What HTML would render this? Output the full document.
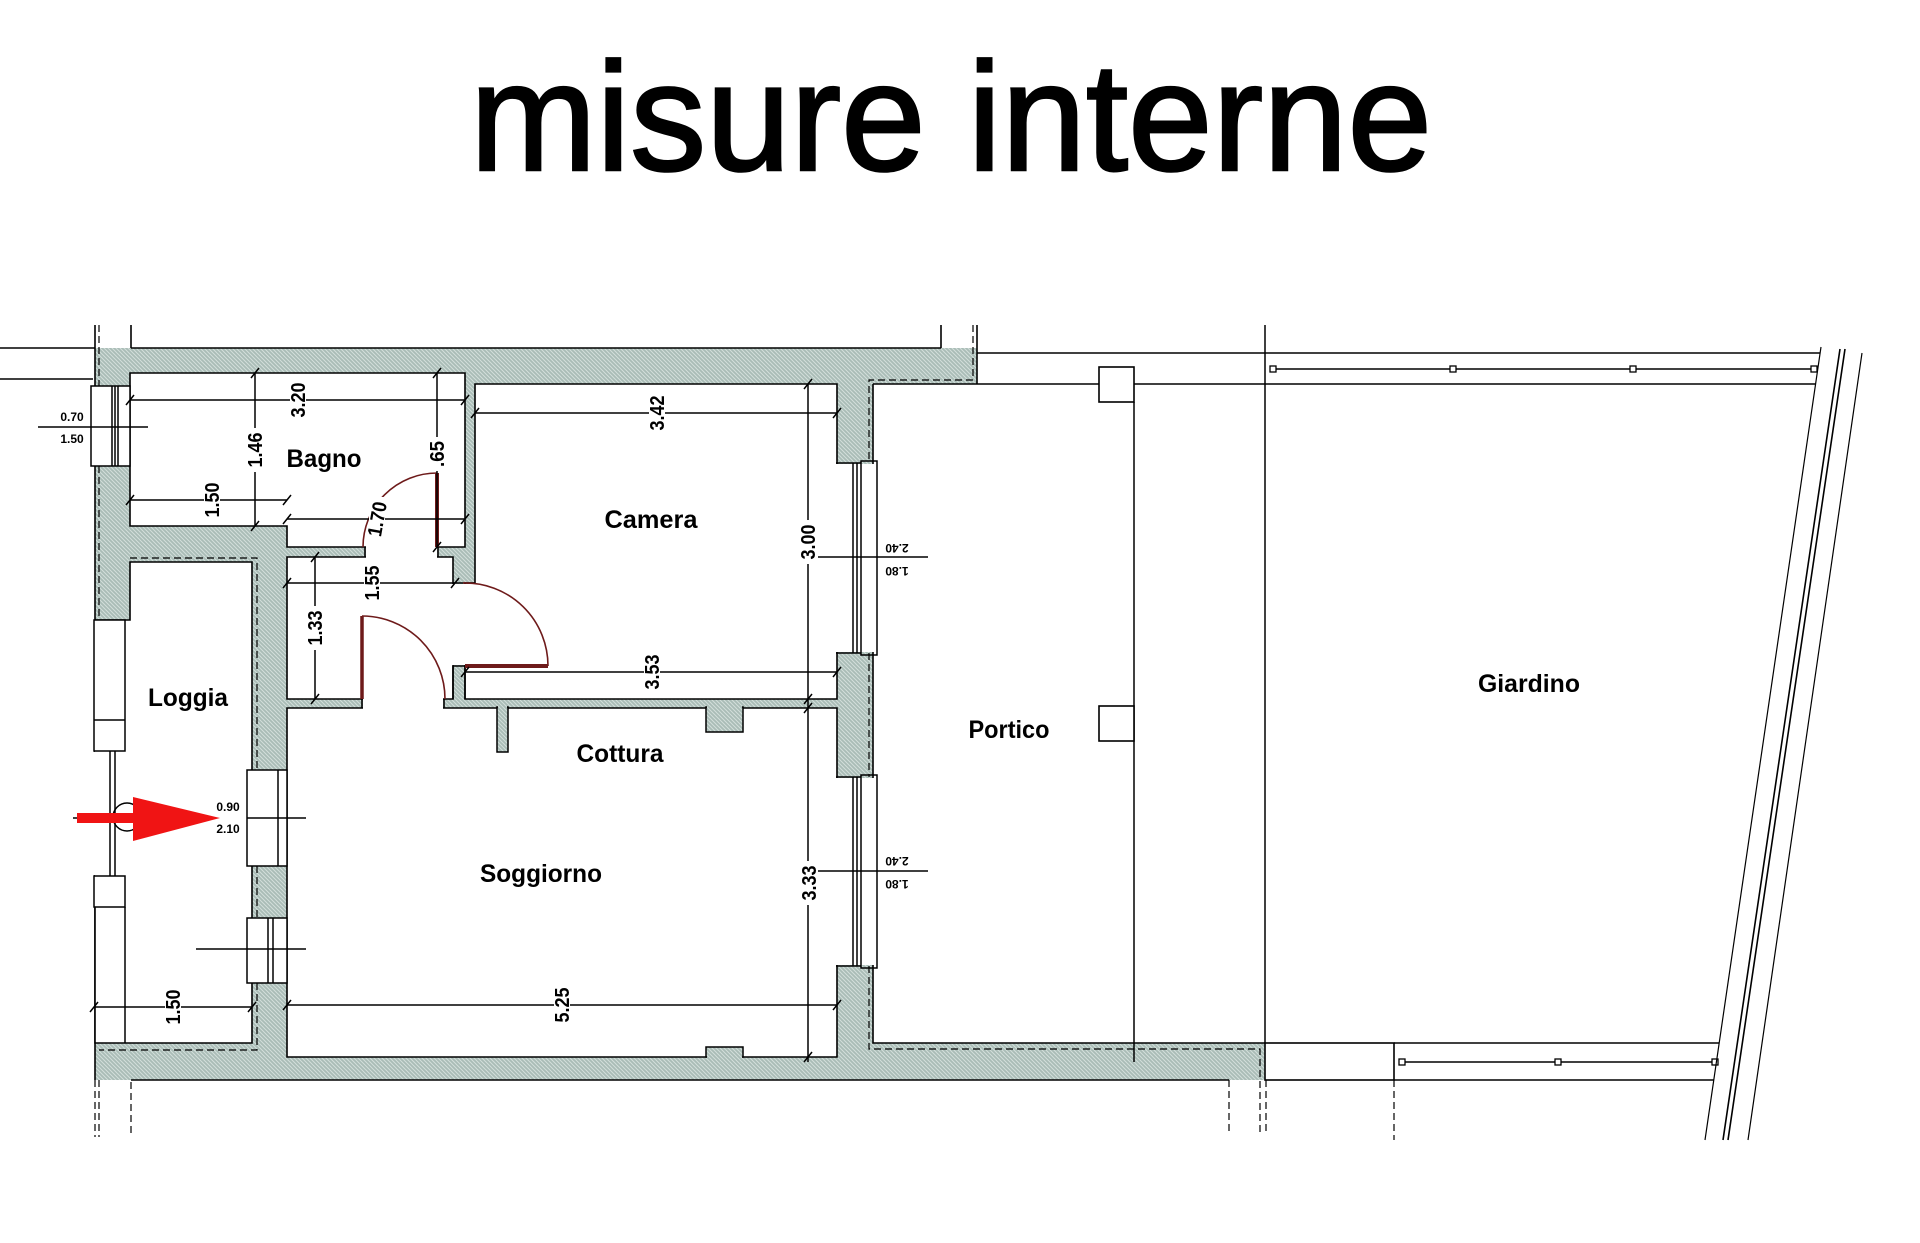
<!DOCTYPE html>
<html><head><meta charset="utf-8"><style>
html,body{margin:0;padding:0;background:#fff;}
svg{display:block;}
text{font-family:"Liberation Sans",Arial,sans-serif;}
.b{font-weight:bold;}
</style></head><body>
<svg width="1920" height="1243" viewBox="0 0 1920 1243" xmlns="http://www.w3.org/2000/svg">
<defs>
<pattern id="h" patternUnits="userSpaceOnUse" width="4" height="4">
<rect width="4" height="4" fill="#a9bcb6"/>
<path d="M-1,-1 L5,5 M-1,3 L1,5 M3,-1 L5,1" stroke="#d3dfdb" stroke-width="1"/>
</pattern>
</defs>
<rect width="1920" height="1243" fill="#fff"/>

<!-- Title -->
<text x="951" y="170" font-size="154" text-anchor="middle" textLength="962" lengthAdjust="spacingAndGlyphs" fill="#000" stroke="#000" stroke-width="2.5">misure interne</text>

<!-- building footprint (hatched walls) -->
<path d="M95,348 H977 V384 H873 V1043 H1265 V1080 H95 Z" fill="url(#h)"/>

<g stroke="#000" stroke-width="1.6" fill="none">
<path d="M131,348 H941"/>
<path d="M95,325 V1080"/>
<path d="M131,325 V348"/>
<path d="M941,325 V348"/>
<path d="M977,325 V384"/>
<path d="M873,384 V1043 H1265"/>
<path d="M131,1080 H1229"/>
<path d="M0,348 H95 M0,379 H93"/>
</g>
<g stroke="#000" stroke-width="1.2" fill="none" stroke-dasharray="7 4">
<path d="M99,325 V386 M99,466 V620"/>
<path d="M973,325 V380 H869 V463 M869,653 V777 M869,966 V1049 H1260 V1133"/>
<path d="M130,558 H257 V770 M257,866 V918 M257,983 V1050 H99"/>
<path d="M95,1080 V1137 M99,1080 V1137 M131,1082 V1137"/>
<path d="M1229,1080 V1133 M1266,1080 V1133 M1394,1080 V1140"/>
</g>

<!-- rooms -->
<g fill="#fff" stroke="#000" stroke-width="1.6">
<path d="M130,373 H465 V547 H287 V526 H130 Z"/>
<path d="M287,557 H453 V699 H287 Z"/>
<path d="M475,384 H837 V699 H465 V583 H475 Z"/>
<path d="M287,708 H837 V1057 H287 Z"/>
</g>
<path d="M130,562 H252 V1043 H95 V620 H130 Z" fill="#fff"/>
<path d="M95,620 H130 V562 H252 V1043 H95 V876 M95,751 V620" fill="none" stroke="#000" stroke-width="1.6"/>
<rect x="92" y="752" width="16" height="123" fill="#fff"/>

<g fill="url(#h)" stroke="#000" stroke-width="1.5">
<rect x="497" y="707" width="11" height="45"/>
<rect x="706" y="707" width="37" height="25"/>
<rect x="706" y="1047" width="37" height="10"/>
</g>
<rect x="498" y="705" width="9" height="4" fill="url(#h)"/>
<rect x="707" y="705" width="35" height="4" fill="url(#h)"/>
<rect x="707" y="1055" width="35" height="4" fill="url(#h)"/>

<g fill="#fff">
<rect x="452" y="584" width="24" height="81"/>
<rect x="366" y="545" width="71" height="14"/>
<rect x="363" y="697" width="80" height="13"/>
</g>
<g stroke="#000" stroke-width="1.6" fill="none">
<path d="M453,583 H475 M453,666 H465 M453,666 V699 M465,666 V699"/>
<path d="M365,547 V557 M438,547 V557"/>
<path d="M362,699 V708 M444,699 V708"/>
</g>

<g stroke="#000" stroke-width="1.5" fill="#fff">
<rect x="91" y="386" width="39" height="80"/>
<rect x="94" y="620" width="31" height="131"/>
<rect x="94" y="876" width="31" height="31"/>
<rect x="247" y="770" width="40" height="96"/>
<rect x="247" y="918" width="40" height="65"/>
</g>
<g stroke="#000" stroke-width="1.5" fill="none">
<path d="M112,386 V466 M115,386 V466 M118,386 V466"/>
<path d="M94,720 H125"/>
<path d="M110,751 V876 M115,751 V876"/>
<path d="M125,907 V1043"/>
<path d="M278,770 V866"/>
<path d="M268,918 V983 M273,918 V983"/>
</g>
<rect x="836" y="464" width="40" height="188" fill="#fff"/>
<rect x="836" y="778" width="40" height="187" fill="#fff"/>
<g stroke="#000" stroke-width="1.5" fill="none">
<path d="M836,463 H861 M836,653 H861 M853,463 V653 M857,463 V653"/>
<rect x="861" y="461" width="16" height="194"/>
<path d="M836,777 H861 M836,966 H861 M853,777 V966 M857,777 V966"/>
<rect x="861" y="775" width="16" height="193"/>
</g>

<g stroke="#6e1a1a" fill="none">
<path d="M437,473 A74,74 0 0 0 363,547" stroke-width="1.6"/>
<path d="M437,473 V547" stroke-width="4"/>
<path d="M362,616 A83,83 0 0 1 445,699" stroke-width="1.6"/>
<path d="M362,616 V699" stroke-width="3.5"/>
<path d="M548,666 A83,83 0 0 0 463,583" stroke-width="1.6"/>
<path d="M465,666 H548" stroke-width="4"/>
</g>

<g stroke="#000" stroke-width="1.5" fill="none">
<path d="M130,400 H465 M130,500 H287 M287,519 H465 M287,583 H455 M475,413 H837 M465,672 H837 M287,1005 H837 M94,1007 H252"/>
<path d="M255,373 V526 M437,373 V547 M315,557 V699 M808,384 V1062"/>
<path d="M126,405 L134,395 M461,405 L469,395 M126,505 L134,495 M283,505 L291,495 M283,524 L291,514 M461,524 L469,514 M283,588 L291,578 M451,588 L459,578 M471,418 L479,408 M833,418 L841,408 M461,677 L469,667 M833,677 L841,667 M283,1010 L291,1000 M833,1010 L841,1000 M90,1012 L98,1002 M248,1012 L256,1002"/>
<path d="M251,378 L259,368 M251,531 L259,521 M433,378 L441,368 M433,552 L441,542 M311,562 L319,552 M311,704 L319,694 M804,389 L812,379 M804,704 L812,694 M804,713 L812,703 M804,1062 L812,1052"/>
<path d="M38,427 H148 M818,557 H928 M818,871 H928 M247,818 H306 M196,949 H306 M73,818 H133"/>
</g>

<g fill="#fff">
<rect x="290" y="378" width="16" height="44"/>
<rect x="204" y="478" width="16" height="44"/>
<rect x="369" y="497" width="16" height="44"/>
<rect x="364" y="561" width="16" height="44"/>
<rect x="649" y="391" width="16" height="44"/>
<rect x="644" y="650" width="16" height="44"/>
<rect x="554" y="983" width="16" height="44"/>
<rect x="165" y="985" width="16" height="44"/>
<rect x="247" y="428" width="16" height="44"/>
<rect x="429" y="437" width="16" height="34"/>
<rect x="307" y="606" width="16" height="44"/>
<rect x="800" y="520" width="16" height="44"/>
<rect x="801" y="861" width="16" height="44"/>
</g>
<g class="b" font-size="20" fill="#000" text-anchor="middle">
<text transform="translate(298,400) rotate(-90)" dy="7" textLength="35" lengthAdjust="spacingAndGlyphs">3.20</text>
<text transform="translate(212,500) rotate(-90)" dy="7" textLength="35" lengthAdjust="spacingAndGlyphs">1.50</text>
<text transform="translate(377,519) rotate(-80)" dy="7" textLength="35" lengthAdjust="spacingAndGlyphs">1.70</text>
<text transform="translate(372,583) rotate(-90)" dy="7" textLength="35" lengthAdjust="spacingAndGlyphs">1.55</text>
<text transform="translate(657,413) rotate(-90)" dy="7" textLength="35" lengthAdjust="spacingAndGlyphs">3.42</text>
<text transform="translate(652,672) rotate(-90)" dy="7" textLength="35" lengthAdjust="spacingAndGlyphs">3.53</text>
<text transform="translate(562,1005) rotate(-90)" dy="7" textLength="35" lengthAdjust="spacingAndGlyphs">5.25</text>
<text transform="translate(173,1007) rotate(-90)" dy="7" textLength="35" lengthAdjust="spacingAndGlyphs">1.50</text>
<text transform="translate(255,450) rotate(-90)" dy="7" textLength="35" lengthAdjust="spacingAndGlyphs">1.46</text>
<text transform="translate(437,454) rotate(-90)" dy="7" textLength="26" lengthAdjust="spacingAndGlyphs">.65</text>
<text transform="translate(315,628) rotate(-90)" dy="7" textLength="35" lengthAdjust="spacingAndGlyphs">1.33</text>
<text transform="translate(808,542) rotate(-90)" dy="7" textLength="35" lengthAdjust="spacingAndGlyphs">3.00</text>
<text transform="translate(809,883) rotate(-90)" dy="7" textLength="35" lengthAdjust="spacingAndGlyphs">3.33</text>
</g>

<g class="b" font-size="12" fill="#000" text-anchor="middle">
<text x="72" y="421">0.70</text>
<text x="72" y="443">1.50</text>
<text x="228" y="811">0.90</text>
<text x="228" y="833">2.10</text>
<text transform="translate(897,548) rotate(180)" dy="4">2.40</text>
<text transform="translate(897,571) rotate(180)" dy="4">1.80</text>
<text transform="translate(897,861) rotate(180)" dy="4">2.40</text>
<text transform="translate(897,884) rotate(180)" dy="4">1.80</text>
</g>

<g stroke="#000" stroke-width="1.5" fill="none">
<path d="M873,384 H1816 M977,353 H1820"/>
<path d="M1134,402 V1062"/>
<path d="M1265,325 V1043"/>
<path d="M1394,1043 H1719 M1394,1080 H1714"/>
<path d="M1273,369 H1814 M1402,1062 H1715"/>
</g>
<g stroke="#000" stroke-width="1.6" fill="#fff">
<rect x="1099" y="367" width="35" height="35"/>
<rect x="1099" y="706" width="35" height="35"/>
<rect x="1265" y="1043" width="129" height="37"/>
</g>
<g stroke="#000" stroke-width="1.3" fill="#fff">
<rect x="1270" y="366" width="6" height="6"/>
<rect x="1450" y="366" width="6" height="6"/>
<rect x="1630" y="366" width="6" height="6"/>
<rect x="1811" y="366" width="6" height="6"/>
<rect x="1399" y="1059" width="6" height="6"/>
<rect x="1555" y="1059" width="6" height="6"/>
<rect x="1712" y="1059" width="6" height="6"/>
</g>
<g stroke="#000" fill="none">
<path d="M1821,347 L1705,1140" stroke-width="1.2"/>
<path d="M1840,349 L1723,1140" stroke-width="1.6"/>
<path d="M1845,349 L1728,1140" stroke-width="1.6"/>
<path d="M1862,353 L1748,1140" stroke-width="1.2"/>
</g>

<circle cx="127" cy="817" r="14" fill="none" stroke="#000" stroke-width="1.5"/>
<rect x="77" y="813" width="57" height="10" fill="#f01414"/>
<polygon points="133,797 133,841 220,818" fill="#f01414"/>

<g class="b" font-size="25" fill="#000" text-anchor="middle">
<text x="324" y="467" textLength="75" lengthAdjust="spacingAndGlyphs">Bagno</text>
<text x="188" y="706" textLength="80" lengthAdjust="spacingAndGlyphs">Loggia</text>
<text x="651" y="528" textLength="93" lengthAdjust="spacingAndGlyphs">Camera</text>
<text x="620" y="762" textLength="87" lengthAdjust="spacingAndGlyphs">Cottura</text>
<text x="541" y="882" textLength="122" lengthAdjust="spacingAndGlyphs">Soggiorno</text>
<text x="1009" y="738" textLength="81" lengthAdjust="spacingAndGlyphs">Portico</text>
<text x="1529" y="692" textLength="102" lengthAdjust="spacingAndGlyphs">Giardino</text>
</g>
</svg>
</body></html>
